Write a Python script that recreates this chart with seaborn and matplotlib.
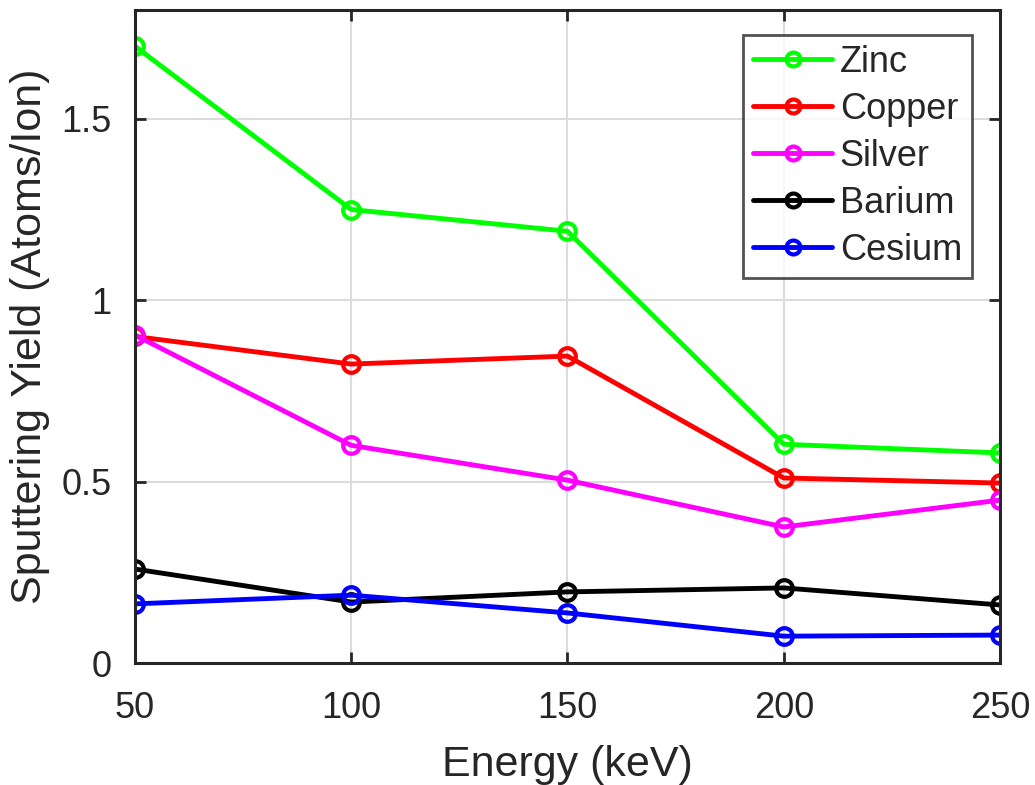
import matplotlib
matplotlib.use("Agg")
import matplotlib.pyplot as plt
import seaborn as sns
import pandas as pd

energy = [50, 100, 150, 200, 250]
zinc = [1.70, 1.25, 1.19, 0.603, 0.579]
copper = [0.90, 0.824, 0.846, 0.51, 0.496]
silver = [0.904, 0.60, 0.504, 0.375, 0.449]
barium = [0.259, 0.168, 0.196, 0.207, 0.16]
cesium = [0.163, 0.187, 0.138, 0.074, 0.077]

series_names = ["Zinc", "Copper", "Silver", "Barium", "Cesium"]
series_vals = [zinc, copper, silver, barium, cesium]
colors = ["#00ff00", "#ff0000", "#ff00ff", "#000000", "#0000ff"]

rows = []
for name, vals in zip(series_names, series_vals):
    for e, v in zip(energy, vals):
        rows.append({"Energy": e, "Yield": v, "Element": name})
df = pd.DataFrame(rows)

sns.set_style("white")
plt.rcParams["font.family"] = ["Liberation Sans", "DejaVu Sans"]

fig = plt.figure(figsize=(10.35, 7.85), dpi=100)
ax = fig.add_axes([0.1304, 0.1554, 0.8358, 0.8319])

sns.lineplot(data=df, x="Energy", y="Yield", hue="Element", hue_order=series_names,
             palette=colors, marker="o", markersize=12, markerfacecolor="none",
             markeredgewidth=3, linewidth=3.5, ax=ax, legend=True)
for line in ax.lines:
    line.set_markeredgecolor(line.get_color())
    line.set_markerfacecolor("none")

ax.set_xlim(50, 250)
ax.set_ylim(0, 1.8)
ax.set_xticks([50, 100, 150, 200, 250])
ax.set_yticks([0, 0.5, 1, 1.5])
ax.set_yticklabels(["0", "0.5", "1", "1.5"])
ax.grid(True, color="#dcdcdc", linewidth=1.5)
ax.set_axisbelow(True)
for sp in ax.spines.values():
    sp.set_visible(True)
    sp.set_color("#262626")
    sp.set_linewidth(2.2)
ax.tick_params(direction="in", length=8, width=2, colors="#262626", labelsize=26,
               top=True, right=True, bottom=True, left=True)
ax.tick_params(axis="x", pad=20)
ax.tick_params(axis="y", pad=17)
ax.tick_params(labeltop=False, labelright=False)
ax.set_xlabel("Energy (keV)", fontsize=31, color="#262626", labelpad=14)
ax.set_ylabel("Sputtering Yield (Atoms/Ion)", fontsize=31, color="#262626", labelpad=8)

handles, labels = ax.get_legend_handles_labels()
for h in handles:
    h.set_markerfacecolor("none")
    h.set_markeredgecolor(h.get_color())
    h.set_markersize(10)
leg = ax.legend(handles, labels, loc="upper right", bbox_to_anchor=(0.9676, 0.962),
                fontsize=26, frameon=True, fancybox=False, edgecolor="#262626",
                handlelength=2.17, handletextpad=0.22, borderpad=0.28, labelspacing=0.33,
                borderaxespad=0)
leg.get_frame().set_linewidth(2)

fig.savefig("out.png", dpi=100)
